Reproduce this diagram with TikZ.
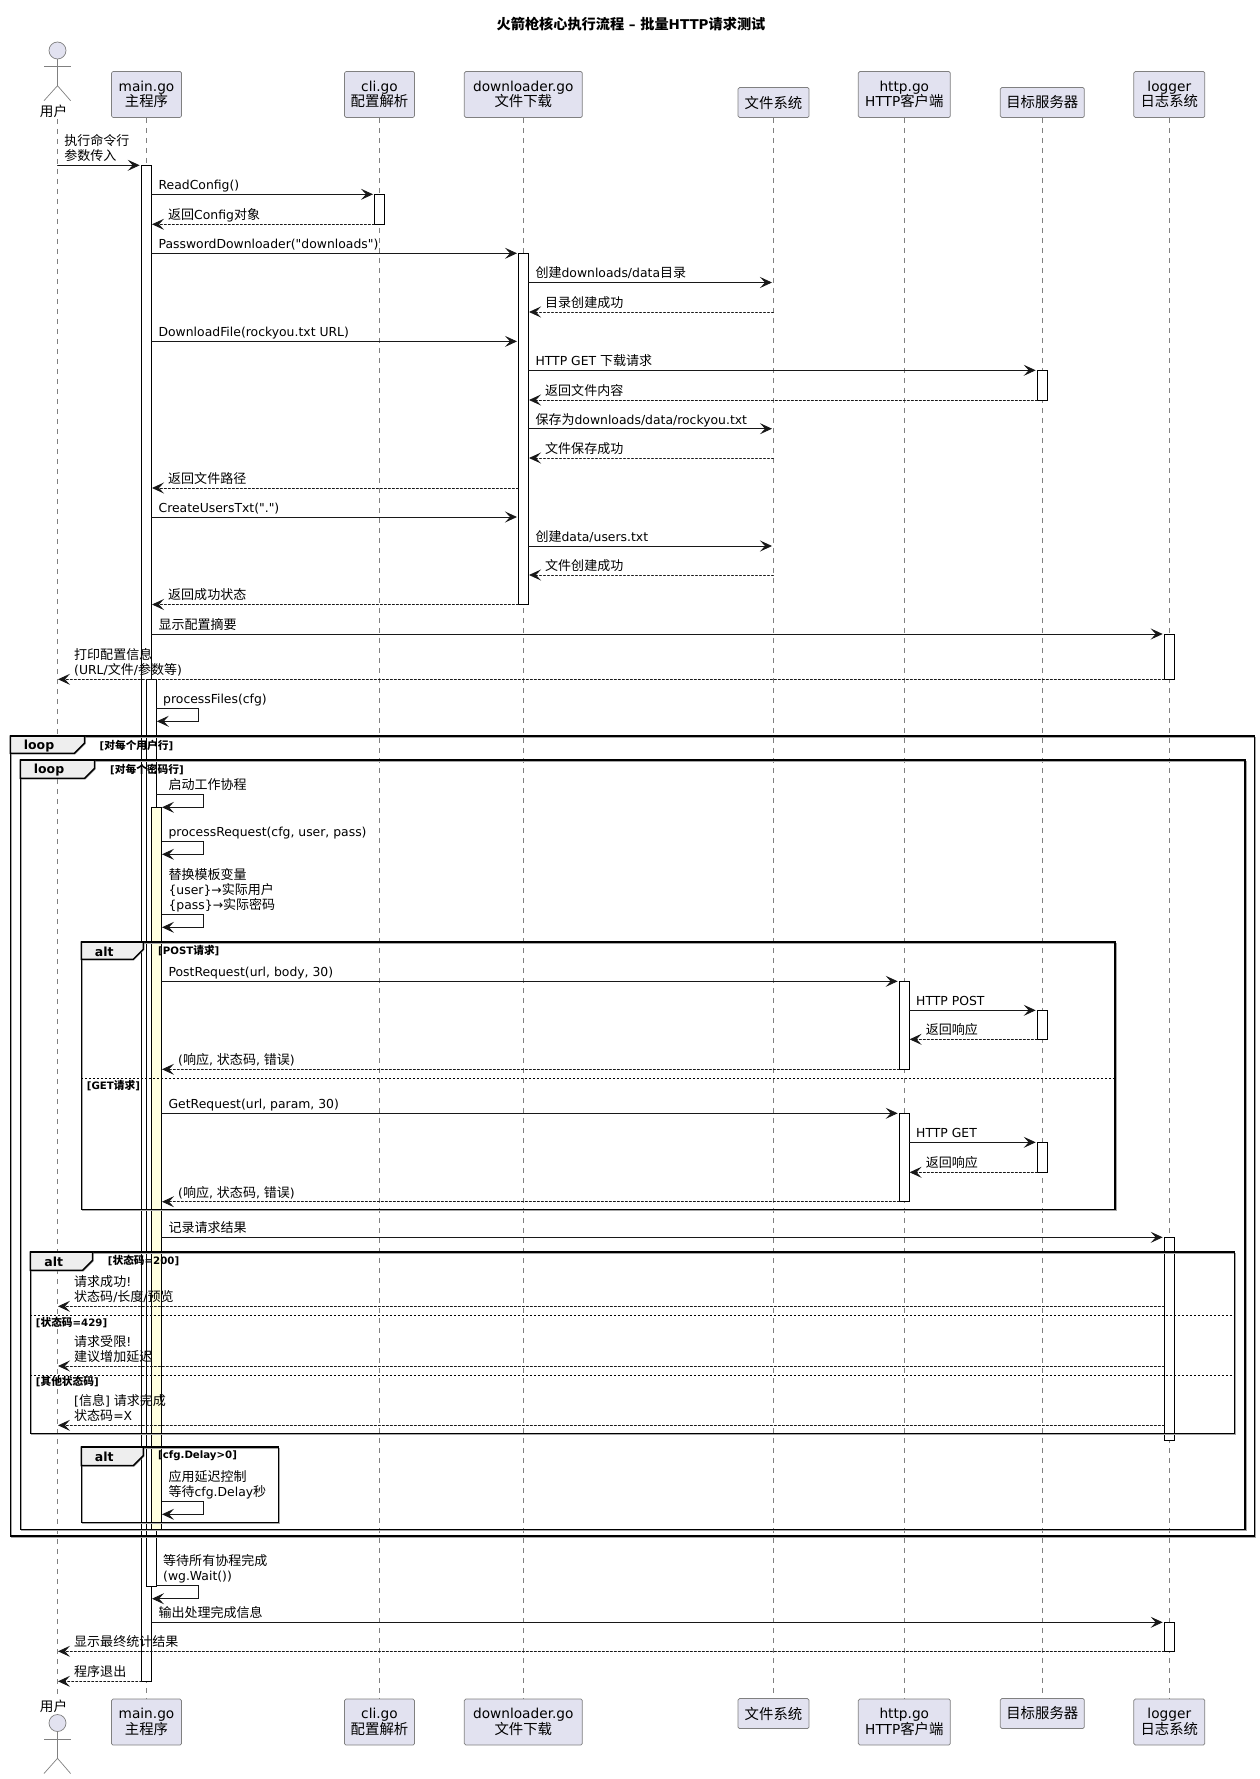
\documentclass[tikz,border=0pt]{standalone}
\usepackage{fontspec}
\setmainfont{DejaVu Sans}[Ligatures=TeXOff]
\newfontfamily\cjk{Noto Sans CJK SC}[Scale=1.05]
\newcommand{\zh}[1]{{\cjk #1}}
\usetikzlibrary{arrows.meta,calc}
\usepackage{tkz-euclide}
\definecolor{BoxClr}{HTML}{E2E2F0}
\definecolor{LineClr}{HTML}{181818}
\definecolor{BarClr}{HTML}{FFFFE0}
\definecolor{TabClr}{HTML}{EEEEEE}
\tikzset{
  call/.style={draw=LineClr,line width=.9pt,-{Stealth[length=12pt,width=11pt,inset=5pt]}},
  reply/.style={call,dash pattern=on 2pt off 2pt},
  lifeline/.style={draw=gray,line width=.6pt,dash pattern=on 5pt off 5pt},
  partbox/.style={draw=gray,fill=BoxClr,rounded corners=1.5pt,line width=.7pt,minimum height=46pt,align=center,inner sep=0pt,font=\fontsize{13.7}{15.7}\selectfont},
  actorline/.style={draw=gray,line width=.7pt},
  actbar/.style={draw=black,fill=white,line width=.9pt},
  frame/.style={draw=black,line width=1.5pt,preaction={draw=gray!70,transform canvas={xshift=.8pt,yshift=-.8pt}}},
  tab/.style={frame,fill=TabClr},
  divider/.style={draw=black,line width=.7pt,dash pattern=on 2pt off 2pt},
  tabtext/.style={inner sep=0pt,font=\fontsize{12.5}{15}\selectfont\bfseries},
  guardtext/.style={anchor=west,inner sep=0pt,font=\fontsize{10.2}{12}\selectfont\bfseries},
  sendtext/.style={anchor=south west,inner sep=0pt,text depth=0pt,align=left,xshift=6.7pt,yshift=4.5pt,font=\fontsize{12.4}{15.3}\selectfont},
  backtext/.style={sendtext,xshift=9.3pt},
  actortext/.style={inner sep=0pt,font=\fontsize{13}{15}\selectfont},
}

\begin{document}
\begin{tikzpicture}[x=1pt,y=-1pt]
\useasboundingbox (0,0) rectangle (1259,1779);

\tkzDefPoints{57.5/165.3/ExecA,139.7/165.3/ExecB,151.7/194.3/ReadA,373/194.3/ReadB,151.7/253.3/PwdA,517/253.3/PwdB}
\tkzDefPoints{528.6/282.5/MkdA,772/282.5/MkdB,151.7/341.4/DlA,517/341.4/DlB,528.6/370.3/GetA,1035.7/370.3/GetB}
\tkzDefPoints{528.6/428.7/SavA,772/428.7/SavB,151.7/517/UsrA,517/517/UsrB,528.6/546/TxtA,772/546/TxtB}
\tkzDefPoints{151.7/634/SumA,1162.7/634/SumB,161.7/981.3/PostA,897.7/981.3/PostB,909.3/1010.3/HpoA,1035.7/1010.3/HpoB}
\tkzDefPoints{161.7/1113.3/GreqA,897.7/1113.3/GreqB,909.3/1142.3/HgeA,1035.7/1142.3/HgeB}
\tkzDefPoints{161.7/1237.3/LogA,1162.7/1237.3/LogB,151.7/1622.3/EndA,1162.7/1622.3/EndB}

\tkzDefPoints{374.3/224.3/CfgA,152/224.3/CfgB,773.5/312/DirA,529/312/DirB,1037.3/400/BodyA,529/400/BodyB}
\tkzDefPoints{773.5/458/SvdA,529/458/SvdB,518.4/488/PathA,152/488/PathB,773.5/575/TdoneA,529/575/TdoneB}
\tkzDefPoints{518.4/604.5/OkA,152/604.5/OkB,1164.3/679.3/InfoA,58/679.3/InfoB}
\tkzDefPoints{1037.3/1039.3/PrA,909.6/1039.3/PrB,899.3/1069.3/PrsA,162/1069.3/PrsB}
\tkzDefPoints{1037.3/1172.3/GrA,909.6/1172.3/GrB,899.3/1201.7/GrsA,162/1201.7/GrsB}
\tkzDefPoints{1164.3/1306.3/OkayA,58/1306.3/OkayB,1164.3/1366/LimA,58/1366/LimB,1164.3/1425.3/OthA,58/1425.3/OthB}
\tkzDefPoints{1164.3/1651.3/FinA,58/1651.3/FinB,141.7/1681.3/QuitA,58/1681.3/QuitB}

\tkzDefPoints{156.3/708.3/FilesA,198.7/708.3/FilesB,198.7/721.3/FilesC,156.8/721.3/FilesD}
\tkzDefPoints{156.3/794.3/WorkA,203.3/794.3/WorkB,203.3/807.3/WorkC,162/807.3/WorkD}
\tkzDefPoints{161.7/841.3/ProcA,203.3/841.3/ProcB,203.3/854.3/ProcC,162/854.3/ProcD}
\tkzDefPoints{161.7/914.3/TplA,203.3/914.3/TplB,203.3/927.3/TplC,162/927.3/TplD}
\tkzDefPoints{161.7/1501.3/DlyA,203.3/1501.3/DlyB,203.3/1514.3/DlyC,162/1514.3/DlyD}
\tkzDefPoints{156.3/1585.3/WaitA,198.8/1585.3/WaitB,198.8/1598.7/WaitC,152/1598.7/WaitD}

\tkzDefPoints{44/66.3/ArmL,70.6/66.3/ArmR,57.5/85.7/Hip,44/100.7/LegL,70.6/100.7/LegR}
\tkzDefPoints{44/1739.3/ArmLb,70.6/1739.3/ArmRb,57.5/1758.3/Hipb,44/1773.5/LegLb,70.6/1773.5/LegRb}

\node[inner sep=0pt,font=\fontsize{13.5}{15}\selectfont\bfseries] (Title) at (631,24.5) {\zh{\bfseries 火箭枪核心执行流程} – \zh{\bfseries 批量}HTTP\zh{\bfseries 请求测试}};

\node[actortext] (UserTop) at (53.5,111) {\zh{用户}};
\node[actortext] (UserBot) at (53.5,1706.7) {\zh{用户}};
\node[partbox,minimum width=70pt] (MainTop) at (146.5,94.5) {main.go\\\zh{主程序}};
\node[partbox,minimum width=70pt] (CliTop) at (379.5,94.5) {cli.go\\\zh{配置解析}};
\node[partbox,minimum width=118pt] (DlTop) at (523.3,94.5) {downloader.go\\\zh{文件下载}};
\node[partbox,minimum width=71pt,minimum height=30pt] (FsTop) at (773.5,102.5) {\zh{文件系统}};
\node[partbox,minimum width=92pt] (HttpTop) at (904.3,94.5) {http.go\\HTTP\zh{客户端}};
\node[partbox,minimum width=84pt,minimum height=30pt] (SrvTop) at (1042.3,102.5) {\zh{目标服务器}};
\node[partbox,minimum width=71pt] (LogTop) at (1169.3,94.5) {logger\\\zh{日志系统}};
\node[partbox,minimum width=70pt] (MainBot) at (146.5,1722) {main.go\\\zh{主程序}};
\node[partbox,minimum width=70pt] (CliBot) at (379.5,1722) {cli.go\\\zh{配置解析}};
\node[partbox,minimum width=118pt] (DlBot) at (523.3,1722) {downloader.go\\\zh{文件下载}};
\node[partbox,minimum width=71pt,minimum height=30pt] (FsBot) at (773.5,1713.5) {\zh{文件系统}};
\node[partbox,minimum width=92pt] (HttpBot) at (904.3,1722) {http.go\\HTTP\zh{客户端}};
\node[partbox,minimum width=84pt,minimum height=30pt] (SrvBot) at (1042.3,1713.5) {\zh{目标服务器}};
\node[partbox,minimum width=71pt] (LogBot) at (1169.3,1722) {logger\\\zh{日志系统}};

\tkzDefPoints{57.5/119/LifeA,57.5/1698/LifeB}
\draw[lifeline] (LifeA) -- (LifeB);
\draw[lifeline] (MainTop.south) -- (MainBot.north);
\draw[lifeline] (CliTop.south) -- (CliBot.north);
\draw[lifeline] (DlTop.south) -- (DlBot.north);
\draw[lifeline] (FsTop.south) -- (FsBot.north);
\draw[lifeline] (HttpTop.south) -- (HttpBot.north);
\draw[lifeline] (SrvTop.south) -- (SrvBot.north);
\draw[lifeline] (LogTop.south) -- (LogBot.north);

\node[circle,draw=gray,fill=BoxClr,line width=.7pt,minimum size=17pt,inner sep=0pt] (HeadTop) at (57.5,50.5) {};
\node[circle,draw=gray,fill=BoxClr,line width=.7pt,minimum size=17pt,inner sep=0pt] (HeadBot) at (57.5,1723) {};
\draw[actorline] (ArmL) -- (ArmR);
\draw[actorline] (HeadTop) -- (Hip);
\draw[actorline] (LegL) -- (Hip) -- (LegR);
\draw[actorline] (ArmLb) -- (ArmRb);
\draw[actorline] (HeadBot) -- (Hipb);
\draw[actorline] (LegLb) -- (Hipb) -- (LegRb);

\draw[actbar] (141.7,165.3) rectangle (151.7,1681.3);
\draw[actbar] (374.3,194.3) rectangle (384.5,224.3);
\draw[actbar] (518.4,253.3) rectangle (528.6,604.5);
\draw[actbar] (1037.3,370.3) rectangle (1047.3,400);
\draw[actbar] (1164.3,634) rectangle (1174.3,679.3);
\draw[actbar] (146.3,679.3) rectangle (156.3,1586);
\draw[actbar,fill=BarClr] (151.7,807.3) rectangle (161.7,1529.3);
\draw[actbar] (899.3,981.3) rectangle (909.3,1069.3);
\draw[actbar] (1037.3,1010.3) rectangle (1047.3,1039.3);
\draw[actbar] (899.3,1113.3) rectangle (909.3,1201.7);
\draw[actbar] (1037.3,1142.3) rectangle (1047.3,1172.3);
\draw[actbar] (1164.3,1237.3) rectangle (1174.3,1440);
\draw[actbar] (1164.3,1622.3) rectangle (1174.3,1651.3);

\draw[frame] (10.3,736) rectangle (1254.5,1536);
\draw[tab] (10.3,736) -- (84.5,736) -- (84.5,743.3) -- (74.5,753.3) -- (10.3,753.3) -- cycle;
\node[tabtext] (LoopUser) at (39,746) {loop};
\node[guardtext] (GuardUser) at (99.5,745.5) {[\zh{\bfseries 对每个用户行}]};

\draw[frame] (20.3,760) rectangle (1245,1529.3);
\draw[tab] (20.3,760) -- (94.7,760) -- (94.7,768.3) -- (84.7,778.3) -- (20.3,778.3) -- cycle;
\node[tabtext] (LoopPass) at (49,770) {loop};
\node[guardtext] (GuardPass) at (110,769.3) {[\zh{\bfseries 对每个密码行}]};

\draw[frame] (81.3,942) rectangle (1115,1209.3);
\draw[tab] (81.3,942) -- (143.3,942) -- (143.3,949.3) -- (133.3,959.3) -- (81.3,959.3) -- cycle;
\node[tabtext] (AltMethod) at (104.3,951.5) {alt};
\node[guardtext] (GuardPost) at (158,951) {[POST\zh{\bfseries 请求}]};
\draw[divider] (81.3,1078.3) -- (1115,1078.3);
\node[guardtext] (GuardGet) at (86.7,1085.3) {[GET\zh{\bfseries 请求}]};

\draw[frame] (30.3,1252) rectangle (1234.7,1433.7);
\draw[tab] (30.3,1252) -- (92.7,1252) -- (92.7,1260.3) -- (82.7,1270.3) -- (30.3,1270.3) -- cycle;
\node[tabtext] (AltStatus) at (53.7,1261.5) {alt};
\node[guardtext] (GuardOk) at (107.7,1261) {[\zh{\bfseries 状态码}=200]};
\draw[divider] (30.3,1315.3) -- (1234.7,1315.3);
\node[guardtext] (GuardLim) at (35.7,1322.3) {[\zh{\bfseries 状态码}=429]};
\draw[divider] (30.3,1375.3) -- (1234.7,1375.3);
\node[guardtext] (GuardOth) at (35.7,1382) {[\zh{\bfseries 其他状态码}]};

\draw[frame] (81.3,1447) rectangle (278.3,1522.3);
\draw[tab] (81.3,1447) -- (143.3,1447) -- (143.3,1455.7) -- (133.3,1465.7) -- (81.3,1465.7) -- cycle;
\node[tabtext] (AltDelay) at (104.3,1456.7) {alt};
\node[guardtext] (GuardDelay) at (158,1456) {[cfg.Delay>0]};

\tkzDrawSegments[call](ExecA,ExecB ReadA,ReadB PwdA,PwdB MkdA,MkdB DlA,DlB GetA,GetB SavA,SavB UsrA,UsrB TxtA,TxtB SumA,SumB)
\tkzDrawSegments[call](PostA,PostB HpoA,HpoB GreqA,GreqB HgeA,HgeB LogA,LogB EndA,EndB)
\tkzDrawSegments[reply](CfgA,CfgB DirA,DirB BodyA,BodyB SvdA,SvdB PathA,PathB TdoneA,TdoneB OkA,OkB InfoA,InfoB)
\tkzDrawSegments[reply](PrA,PrB PrsA,PrsB GrA,GrB GrsA,GrsB OkayA,OkayB LimA,LimB OthA,OthB FinA,FinB QuitA,QuitB)
\draw[call] (FilesA) -- (FilesB) -- (FilesC) -- (FilesD);
\draw[call] (WorkA) -- (WorkB) -- (WorkC) -- (WorkD);
\draw[call] (ProcA) -- (ProcB) -- (ProcC) -- (ProcD);
\draw[call] (TplA) -- (TplB) -- (TplC) -- (TplD);
\draw[call] (DlyA) -- (DlyB) -- (DlyC) -- (DlyD);
\draw[call] (WaitA) -- (WaitB) -- (WaitC) -- (WaitD);

\node[sendtext] (ExecTxt) at (ExecA) {\zh{执行命令行}\\\zh{参数传入}};
\node[sendtext] (ReadTxt) at (ReadA) {ReadConfig()};
\node[backtext] (CfgTxt) at (CfgB) {\zh{返回}Config\zh{对象}};
\node[sendtext] (PwdTxt) at (PwdA) {PasswordDownloader("downloads")};
\node[sendtext] (MkdTxt) at (MkdA) {\zh{创建}downloads/data\zh{目录}};
\node[backtext] (DirTxt) at (DirB) {\zh{目录创建成功}};
\node[sendtext] (DlTxt) at (DlA) {DownloadFile(rockyou.txt URL)};
\node[sendtext] (GetTxt) at (GetA) {HTTP GET \zh{下载请求}};
\node[backtext] (BodyTxt) at (BodyB) {\zh{返回文件内容}};
\node[sendtext] (SavTxt) at (SavA) {\zh{保存为}downloads/data/rockyou.txt};
\node[backtext] (SvdTxt) at (SvdB) {\zh{文件保存成功}};
\node[backtext] (PathTxt) at (PathB) {\zh{返回文件路径}};
\node[sendtext] (UsrTxt) at (UsrA) {CreateUsersTxt(".")};
\node[sendtext] (TxtTxt) at (TxtA) {\zh{创建}data/users.txt};
\node[backtext] (TdoneTxt) at (TdoneB) {\zh{文件创建成功}};
\node[backtext] (OkTxt) at (OkB) {\zh{返回成功状态}};
\node[sendtext] (SumTxt) at (SumA) {\zh{显示配置摘要}};
\node[backtext] (InfoTxt) at (InfoB) {\zh{打印配置信息}\\(URL/\zh{文件}/\zh{参数等})};
\node[sendtext] (FilesTxt) at (FilesA) {processFiles(cfg)};
\node[sendtext,xshift=5.3pt] (WorkTxt) at (WorkA) {\zh{启动工作协程}};
\node[sendtext] (ProcTxt) at (ProcA) {processRequest(cfg, user, pass)};
\node[sendtext] (TplTxt) at (TplA) {\zh{替换模板变量}\\\{user\}→\zh{实际用户}\\\{pass\}→\zh{实际密码}};
\node[sendtext] (PostTxt) at (PostA) {PostRequest(url, body, 30)};
\node[sendtext] (HpoTxt) at (HpoA) {HTTP POST};
\node[backtext] (PrTxt) at (PrB) {\zh{返回响应}};
\node[backtext] (PrsTxt) at (PrsB) {(\zh{响应}, \zh{状态码}, \zh{错误})};
\node[sendtext] (GreqTxt) at (GreqA) {GetRequest(url, param, 30)};
\node[sendtext] (HgeTxt) at (HgeA) {HTTP GET};
\node[backtext] (GrTxt) at (GrB) {\zh{返回响应}};
\node[backtext] (GrsTxt) at (GrsB) {(\zh{响应}, \zh{状态码}, \zh{错误})};
\node[sendtext] (LogTxt) at (LogA) {\zh{记录请求结果}};
\node[backtext] (OkayTxt) at (OkayB) {\zh{请求成功}!\\\zh{状态码}/\zh{长度}/\zh{预览}};
\node[backtext] (LimTxt) at (LimB) {\zh{请求受限}!\\\zh{建议增加延迟}};
\node[backtext] (OthTxt) at (OthB) {[\zh{信息}] \zh{请求完成}\\\zh{状态码}=X};
\node[sendtext] (DlyTxt) at (DlyA) {\zh{应用延迟控制}\\\zh{等待}cfg.Delay\zh{秒}};
\node[sendtext] (WaitTxt) at (WaitA) {\zh{等待所有协程完成}\\(wg.Wait())};
\node[sendtext] (EndTxt) at (EndA) {\zh{输出处理完成信息}};
\node[backtext] (FinTxt) at (FinB) {\zh{显示最终统计结果}};
\node[backtext] (QuitTxt) at (QuitB) {\zh{程序退出}};

\end{tikzpicture}
\end{document}
